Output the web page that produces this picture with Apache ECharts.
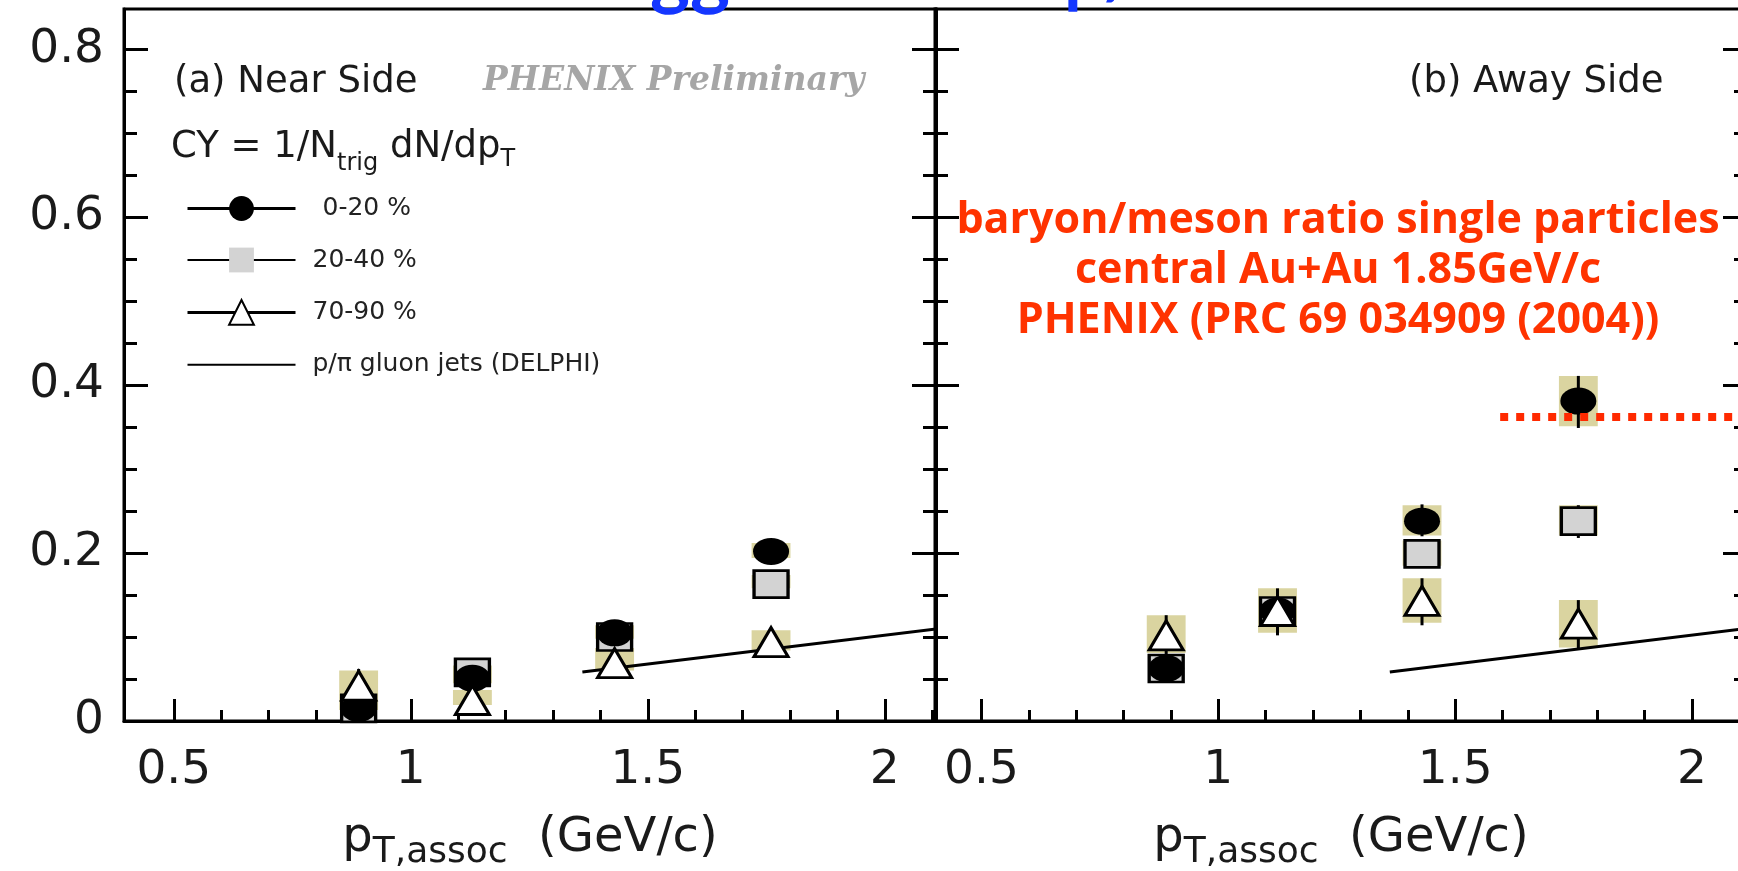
<!DOCTYPE html>
<html><head><meta charset="utf-8">
<script src="https://cdn.jsdelivr.net/npm/echarts@6/dist/echarts.min.js"></script>
<style>html,body{margin:0;padding:0;background:#fff;}#c{width:1738px;height:871px;}</style>
</head><body><div id="c"></div>
<script>
// ---- data ----
const pTNear = [0.89, 1.13, 1.43, 1.76];
const pTAway = [0.89, 1.125, 1.43, 1.76];
const nearCY_0_20  = [0.015, 0.051, 0.105, 0.202];
const nearCY_20_40 = [0.015, 0.058, 0.100, 0.163];
const nearCY_70_90 = [0.042, 0.025, 0.069, 0.094];
const awayCY_0_20  = [0.0625, 0.131, 0.238, 0.381];
const awayCY_20_40 = [0.0625, 0.131, 0.199, 0.238];
const awayCY_70_90 = [0.102, 0.131, 0.143, 0.116];
// systematic boxes: [pT, low, high]
const nearSys = [[0.89,0.013,0.060],[1.13,0.045,0.066],[1.13,0.019,0.037],[1.43,0.098,0.114],[1.43,0.060,0.087],[1.76,0.194,0.212],[1.76,0.158,0.174],[1.76,0.084,0.108]];
const awaySys = [[0.89,0.081,0.126],[1.125,0.105,0.158],[1.43,0.221,0.257],[1.43,0.185,0.215],[1.43,0.117,0.170],[1.76,0.351,0.411],[1.76,0.221,0.257],[1.76,0.0875,0.144]];
// statistical error bars: [pT, low, high]
const nearErr = [[0.89,0.015,0.062],[1.13,0.015,0.038],[1.43,0.060,0.087],[1.76,0.084,0.108]];
const awayErr = [[0.89,0.062,0.126],[1.125,0.102,0.158],[1.43,0.220,0.258],[1.43,0.190,0.210],[1.43,0.114,0.170],[1.76,0.349,0.411],[1.76,0.218,0.257],[1.76,0.086,0.144]];
const delphiX = [1.362, 2.12];
const delphiY = [0.0584, 0.1105];
const bmRatioX = [1.595, 2.12];
const bmRatioY = [0.362, 0.362];
const xMajorTicks = [0.5, 1, 1.5, 2];
const xMinorTicks = [0.6, 0.7, 0.8, 0.9, 1.1, 1.2, 1.3, 1.4, 1.6, 1.7, 1.8, 1.9, 2.1];
const yMajorTicks = [0, 0.2, 0.4, 0.6, 0.8];
const yMinorTicks = [0.05, 0.1, 0.15, 0.25, 0.3, 0.35, 0.45, 0.5, 0.55, 0.65, 0.7, 0.75];
const seriesNames = ['0-20 %', '20-40 %', '70-90 %', 'p/\u03c0 gluon jets (DELPHI)'];

// ---- chart ----
const chart = echarts.init(document.getElementById('c'), null, {renderer: 'canvas'});
const BLACK = '#000';
const TAN = '#dad4a0';
const tickStyle = {color: BLACK, width: 3};
const FONT = 'DejaVu Sans';

function zip(xs, ys) { return xs.map((x, i) => [x, ys[i]]); }

const xName = {
  name: '{m|p}{s|T,assoc}{m|  (GeV/c)}',
  nameLocation: 'middle', nameGap: 86,
  nameTextStyle: {
    rich: {
      m: {fontFamily: FONT, fontSize: 48, color: '#1a1a1a', verticalAlign: 'middle'},
      s: {fontFamily: FONT, fontSize: 36, color: '#1a1a1a', verticalAlign: 'middle', padding: [28, 0, 0, 0]}
    }
  }
};

function makeXAxes(grid, min, max) {
  return [
    Object.assign({
      type: 'value', gridIndex: grid, min: min, max: max, position: 'bottom',
      axisLine: {show: true, onZero: false, lineStyle: tickStyle},
      axisTick: {show: true, inside: true, length: 22, customValues: xMajorTicks, lineStyle: tickStyle},
      axisLabel: {show: true, customValues: xMajorTicks, margin: 26, color: '#1a1a1a', fontSize: 47, fontFamily: FONT},
      splitLine: {show: false}
    }, xName),
    {
      type: 'value', gridIndex: grid, min: min, max: max, position: 'bottom',
      axisLine: {show: false, onZero: false},
      axisTick: {show: true, inside: true, length: 11, customValues: xMinorTicks, lineStyle: tickStyle},
      axisLabel: {show: false}, splitLine: {show: false}
    }
  ];
}
function makeYAxes(grid, labels) {
  const base = {type: 'value', gridIndex: grid, min: 0, max: 0.848, splitLine: {show: false}};
  return [
    Object.assign({}, base, {position: 'left',
      axisLine: {show: true, onZero: false, lineStyle: tickStyle},
      axisTick: {show: true, inside: true, length: 24, customValues: yMajorTicks, lineStyle: tickStyle},
      axisLabel: {show: labels, customValues: yMajorTicks, margin: 20, color: '#1a1a1a', fontSize: 47, fontFamily: FONT}}),
    Object.assign({}, base, {position: 'left', axisLine: {show: false, onZero: false},
      axisTick: {show: true, inside: true, length: 13, customValues: yMinorTicks, lineStyle: tickStyle},
      axisLabel: {show: false}}),
    Object.assign({}, base, {position: 'right', axisLine: {show: true, onZero: false, lineStyle: tickStyle},
      axisTick: {show: true, inside: true, length: 24, customValues: yMajorTicks, lineStyle: tickStyle},
      axisLabel: {show: false}}),
    Object.assign({}, base, {position: 'right', axisLine: {show: false, onZero: false},
      axisTick: {show: true, inside: true, length: 13, customValues: yMinorTicks, lineStyle: tickStyle},
      axisLabel: {show: false}})
  ];
}

function boxRender(params, api) {
  const x = api.value(0);
  const top = api.coord([x, api.value(2)]);
  const bot = api.coord([x, api.value(1)]);
  const w = api.size([0.082, 0])[0];
  return {type: 'rect', shape: {x: top[0] - w / 2, y: top[1], width: w, height: bot[1] - top[1]}, style: {fill: TAN}};
}
function errRender(params, api) {
  const x = api.value(0);
  const top = api.coord([x, api.value(2)]);
  const bot = api.coord([x, api.value(1)]);
  return {type: 'line', shape: {x1: top[0], y1: top[1], x2: bot[0], y2: bot[1]}, style: {stroke: BLACK, lineWidth: 3}};
}

function panelSeries(xi, yi, xs, c020, c2040, c7090, sys, err) {
  const common = {type: 'line', xAxisIndex: xi, yAxisIndex: yi, showAllSymbol: true,
    lineStyle: {opacity: 0}, emphasis: {disabled: true}, animation: false};
  return [
    {name: 'sys', type: 'custom', xAxisIndex: xi, yAxisIndex: yi, renderItem: boxRender, data: sys, z: 1,
      encode: {x: 0, y: [1, 2]}, silent: true},
    {name: 'stat', type: 'custom', xAxisIndex: xi, yAxisIndex: yi, renderItem: errRender, data: err, z: 2,
      encode: {x: 0, y: [1, 2]}, silent: true},
    Object.assign({}, common, {name: seriesNames[1], data: zip(xs, c2040), z: 3, symbol: 'rect', symbolSize: [34, 27],
      itemStyle: {color: '#d3d3d3', borderColor: BLACK, borderWidth: 3}}),
    Object.assign({}, common, {name: seriesNames[0], data: zip(xs, c020), z: 4, symbol: 'circle', symbolSize: [36, 27],
      itemStyle: {color: BLACK, borderColor: BLACK, borderWidth: 0}}),
    Object.assign({}, common, {name: seriesNames[2], data: zip(xs, c7090), z: 5, symbol: 'triangle', symbolSize: [34, 29],
      itemStyle: {color: '#fff', borderColor: BLACK, borderWidth: 3}}),
    {name: seriesNames[3], type: 'line', xAxisIndex: xi, yAxisIndex: yi, data: zip(delphiX, delphiY), z: 3,
      symbol: 'none', lineStyle: {color: BLACK, width: 3}, emphasis: {disabled: true}, animation: false}
  ];
}

const series = [].concat(
  panelSeries(0, 0, pTNear, nearCY_0_20, nearCY_20_40, nearCY_70_90, nearSys, nearErr),
  panelSeries(2, 4, pTAway, awayCY_0_20, awayCY_20_40, awayCY_70_90, awaySys, awayErr),
  [{name: 'baryon/meson single particles', type: 'line', xAxisIndex: 2, yAxisIndex: 4, data: zip(bmRatioX, bmRatioY),
    z: 6, symbol: 'none', lineStyle: {color: '#ff2a00', width: 8, type: [8, 8], cap: 'butt'}, emphasis: {disabled: true}, animation: false}]
);

const option = {
  backgroundColor: '#fff',
  animation: false,
  grid: [
    {left: 124, top: 9, width: 812, height: 712, show: true, borderColor: BLACK, borderWidth: 3, outerBoundsMode: 'none'},
    {left: 935, top: 9, width: 812, height: 712, show: true, borderColor: BLACK, borderWidth: 3, outerBoundsMode: 'none'}
  ],
  xAxis: [].concat(makeXAxes(0, 0.395, 2.108), makeXAxes(1, 0.402, 2.116)),
  yAxis: [].concat(makeYAxes(0, true), makeYAxes(1, false)),
  legend: {
    orient: 'vertical', left: 186, top: 196, padding: 0,
    itemWidth: 108, itemHeight: 31, itemGap: 26.5, selectedMode: false,
    textStyle: {fontFamily: FONT, fontSize: 25, color: '#222',
      rich: {g: {width: 12, fontSize: 25}, g2: {width: 22, fontSize: 25}}},
    formatter: function (n) { return (n === seriesNames[0] ? '{g2| }' : '{g| }') + n; },
    lineStyle: {color: BLACK, opacity: 1},
    data: [
      {name: seriesNames[0], lineStyle: {width: 3}},
      {name: seriesNames[1], lineStyle: {width: 2}, itemStyle: {borderWidth: 0}},
      {name: seriesNames[2], lineStyle: {width: 3}},
      {name: seriesNames[3], lineStyle: {width: 2}, itemStyle: {opacity: 0}}
    ]
  },
  graphic: [
    {type: 'text', x: 174, y: 82, style: {text: '(a) Near Side', font: '37px "DejaVu Sans"', fill: '#1a1a1a', align: 'left', verticalAlign: 'middle'}},
    {type: 'text', x: 483, y: 81, style: {text: 'PHENIX Preliminary', font: 'italic bold 33px "DejaVu Serif"', fill: '#a6a6a6', align: 'left', verticalAlign: 'middle'}},
    {type: 'text', x: 171, y: 147, style: {
      text: '{m|CY = 1/N}{s|trig}{m| dN/dp}{t|T}', align: 'left', verticalAlign: 'middle',
      rich: {
        m: {fontFamily: FONT, fontSize: 37, fill: '#1a1a1a', verticalAlign: 'middle'},
        s: {fontFamily: FONT, fontSize: 24, fill: '#1a1a1a', verticalAlign: 'middle', padding: [34, 0, 0, 0]},
        t: {fontFamily: FONT, fontSize: 24, fill: '#1a1a1a', verticalAlign: 'middle', padding: [26, 0, 0, 0]}
      }}},
    {type: 'text', x: 1409, y: 82, style: {text: '(b) Away Side', font: '37px "DejaVu Sans"', fill: '#1a1a1a', align: 'left', verticalAlign: 'middle'}},
    {type: 'text', x: 1338, y: 196, style: {
      text: 'baryon/meson ratio single particles\ncentral Au+Au 1.85GeV/c\nPHENIX (PRC 69 034909 (2004))',
      font: 'bold 43px "Open Sans"', fill: '#ff3300', align: 'center', verticalAlign: 'top', lineHeight: 50}},
    {type: 'text', x: 650, y: 13, style: {text: 'gg', font: 'bold 76px Lato', fill: '#1436ff', align: 'left', verticalAlign: 'bottom'}},
    {type: 'text', x: 1064, y: 12, style: {text: 'p/', font: 'bold 72px Lato', fill: '#1436ff', align: 'left', verticalAlign: 'bottom'}}
  ],
  series: series
};
chart.setOption(option);
</script>
</body></html>
